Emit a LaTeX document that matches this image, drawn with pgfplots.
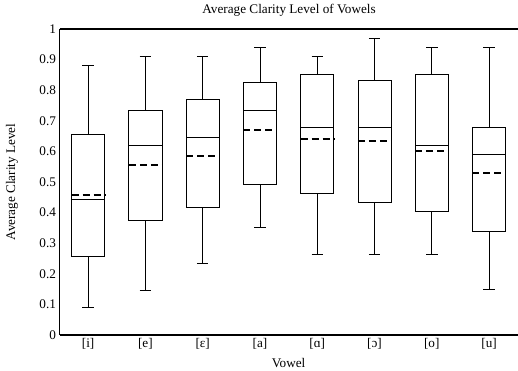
\documentclass[border=0pt]{standalone}
\usepackage{fontspec}
\setmainfont{Liberation Serif}
\usepackage{pgfplots}
\pgfplotsset{compat=1.18}
\usepgfplotslibrary{statistics}
\newcommand{\ff}{\fontsize{13.2bp}{15.5bp}\selectfont}
\begin{document}
\begin{tikzpicture}
\begin{axis}[
  scale only axis, width=458.2bp, height=306bp,
  xmin=-0.5, xmax=7.5, ymin=0, ymax=1,
  axis x line*=bottom, axis y line*=left,
  axis line style={line width=1.1bp, black},
  major tick length=0,
  xtick={0,...,7},
  xticklabels={{[i]},{[e]},{[ɛ]},{[a]},{[ɑ]},{[ɔ]},{[o]},{[u]}},
  ytick={0,0.1,...,1.01},
  yticklabel style={/pgf/number format/fixed,/pgf/number format/precision=1},
  /pgf/number format/assume math mode=true,
  tick label style={font=\ff},
  label style={font=\ff},
  title style={font=\ff, at={(axis description cs:0.501,1.0402)}, anchor=center},
  title={Average Clarity Level of Vowels},
  xlabel={Vowel},
  ylabel={Average Clarity Level},
  xlabel style={at={(axis description cs:0.5,-0.0905)}, anchor=center},
  ylabel style={at={(axis description cs:-0.1037,0.5)}, anchor=center},
  boxplot/draw direction=y,
  boxplot/box extend=0.58,
  boxplot/whisker extend=0.2,
  clip=false,
]
\coordinate (ll) at (rel axis cs:0,0);
\coordinate (ur) at (rel axis cs:1,1);
\draw[line width=1.1bp, black] (rel axis cs:0,1) -- (rel axis cs:1,1);
\addplot[black, line width=0.8bp, boxplot prepared={draw position=0, lower whisker=0.089, lower quartile=0.257, median=0.442, upper quartile=0.654, upper whisker=0.882}] coordinates {};
\addplot[black, line width=0.8bp, boxplot prepared={draw position=1, lower whisker=0.147, lower quartile=0.374, median=0.619, upper quartile=0.735, upper whisker=0.911}] coordinates {};
\addplot[black, line width=0.8bp, boxplot prepared={draw position=2, lower whisker=0.235, lower quartile=0.418, median=0.647, upper quartile=0.771, upper whisker=0.911}] coordinates {};
\addplot[black, line width=0.8bp, boxplot prepared={draw position=3, lower whisker=0.353, lower quartile=0.492, median=0.735, upper quartile=0.824, upper whisker=0.939}] coordinates {};
\addplot[black, line width=0.8bp, boxplot prepared={draw position=4, lower whisker=0.265, lower quartile=0.463, median=0.677, upper quartile=0.853, upper whisker=0.911}] coordinates {};
\addplot[black, line width=0.8bp, boxplot prepared={draw position=5, lower whisker=0.265, lower quartile=0.433, median=0.677, upper quartile=0.831, upper whisker=0.970}] coordinates {};
\addplot[black, line width=0.8bp, boxplot prepared={draw position=6, lower whisker=0.265, lower quartile=0.404, median=0.618, upper quartile=0.853, upper whisker=0.939}] coordinates {};
\addplot[black, line width=0.8bp, boxplot prepared={draw position=7, lower whisker=0.148, lower quartile=0.338, median=0.589, upper quartile=0.677, upper whisker=0.939}] coordinates {};
% means
\pgfplotsset{meanstyle/.style={black, line width=2bp, dash pattern=on 7bp off 4bp, mark=none}}
\addplot[meanstyle] coordinates {(-0.29,0.456) (0.29,0.456)};
\addplot[meanstyle] coordinates {(0.71,0.555) (1.29,0.555)};
\addplot[meanstyle] coordinates {(1.71,0.586) (2.29,0.586)};
\addplot[meanstyle] coordinates {(2.71,0.671) (3.29,0.671)};
\addplot[meanstyle] coordinates {(3.71,0.640) (4.29,0.640)};
\addplot[meanstyle] coordinates {(4.71,0.635) (5.29,0.635)};
\addplot[meanstyle] coordinates {(5.71,0.602) (6.29,0.602)};
\addplot[meanstyle] coordinates {(6.71,0.528) (7.29,0.528)};
\end{axis}
\pgfresetboundingbox
\path ([shift={(-59.5bp,-35bp)}]ll) rectangle ([shift={(0.3bp,29bp)}]ur);
\end{tikzpicture}
\end{document}
